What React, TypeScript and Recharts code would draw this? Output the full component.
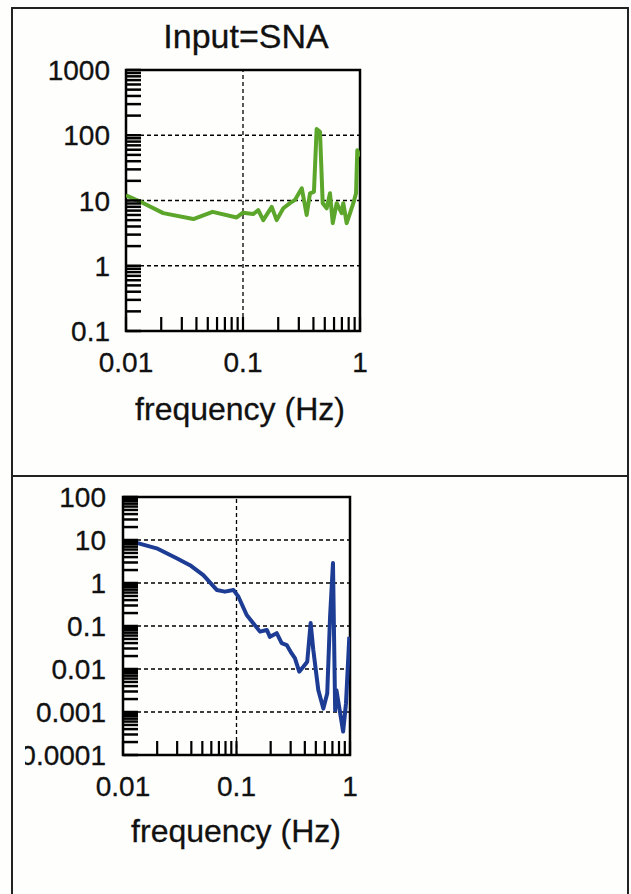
import React from "react";
import {
  LineChart,
  Line,
  XAxis,
  YAxis,
  ReferenceLine,
  ReferenceArea
} from "recharts";

const FONT = "'Liberation Sans', Arial, sans-serif";
const GREEN = "#5ca62c";
const BLUE = "#1d3c94";
const INK = "#111";

// top panel: input = SNA
const snaFreq = [
  0.01, 0.0141, 0.0208, 0.0376, 0.055, 0.0883, 0.1, 0.122, 0.135, 0.149, 0.176,
  0.194, 0.221, 0.252, 0.278, 0.318, 0.35, 0.374, 0.404, 0.426, 0.455, 0.48,
  0.519, 0.554, 0.585, 0.632, 0.697, 0.72, 0.769, 0.822, 0.877, 0.925, 0.948, 0.99
];
const snaGain = [
  12, 9.1, 6.4, 5.2, 6.7, 5.5, 6.5, 6.2, 7.1, 5.0, 8.0,
  5.0, 7.6, 9.1, 10.2, 15.4, 6.0, 12.9, 13.6, 125, 113, 9.1,
  7.6, 12.9, 4.5, 9.1, 6.4, 9.1, 4.5, 6.4, 9.1, 12.9, 59, 47
];

// bottom panel
const lowFreq = [
  0.01, 0.0132, 0.0198, 0.0297, 0.0389, 0.051, 0.067, 0.079, 0.094, 0.104, 0.123,
  0.141, 0.161, 0.185, 0.197, 0.226, 0.25, 0.277, 0.306, 0.327, 0.357, 0.388,
  0.42, 0.45, 0.475, 0.526, 0.582, 0.63, 0.667, 0.708, 0.74, 0.76, 0.87, 0.922, 0.986
];
const lowGain = [
  9, 8.6, 6.4, 3.75, 2.6, 1.53, 0.69, 0.63, 0.69, 0.48, 0.18,
  0.115, 0.074, 0.081, 0.056, 0.068, 0.04, 0.036, 0.023, 0.0178, 0.0087, 0.0113,
  0.0148, 0.117, 0.0276, 0.0032, 0.0012, 0.0027, 0.16, 2.9, 0.0011, 0.0032, 0.00035, 0.0016, 0.056
];

const freqTicks = [
  0.01, 0.02, 0.03, 0.04, 0.05, 0.06, 0.07, 0.08, 0.09,
  0.1, 0.2, 0.3, 0.4, 0.5, 0.6, 0.7, 0.8, 0.9, 1
];
const freqLabels = [0.01, 0.1, 1];

const topYTicks = [
  0.1, 0.2, 0.3, 0.4, 0.5, 0.6, 0.7, 0.8, 0.9,
  1, 2, 3, 4, 5, 6, 7, 8, 9,
  10, 20, 30, 40, 50, 60, 70, 80, 90,
  100, 200, 300, 400, 500, 600, 700, 800, 900, 1000
];
const topYLabels = [0.1, 1, 10, 100, 1000];
const topGrid = [1, 10, 100];

const botYTicks = [
  0.0001, 0.0002, 0.0003, 0.0004, 0.0005, 0.0006, 0.0007, 0.0008, 0.0009,
  0.001, 0.002, 0.003, 0.004, 0.005, 0.006, 0.007, 0.008, 0.009,
  0.01, 0.02, 0.03, 0.04, 0.05, 0.06, 0.07, 0.08, 0.09,
  0.1, 0.2, 0.3, 0.4, 0.5, 0.6, 0.7, 0.8, 0.9,
  1, 2, 3, 4, 5, 6, 7, 8, 9,
  10, 20, 30, 40, 50, 60, 70, 80, 90, 100
];
const botYLabels = [0.0001, 0.001, 0.01, 0.1, 1, 10, 100];
const botGrid = [0.001, 0.01, 0.1, 1, 10];

const textStyle = { fontFamily: FONT, fill: INK, stroke: INK, strokeWidth: 0.3 };

const XTick = (props: any) => {
  const { x, y, payload } = props;
  const v = payload.value;
  return (
    <g>
      <line x1={x} x2={x} y1={y} y2={y - 14} stroke="#000" strokeWidth={2.2} />
      {freqLabels.includes(v) && (
        <text x={x} y={y + 41} textAnchor="middle" fontSize={28} {...textStyle}>
          {String(v)}
        </text>
      )}
    </g>
  );
};

const makeYTick = (labels: number[], gap: number) => (props: any) => {
  const { x, y, payload } = props;
  const v = payload.value;
  return (
    <g>
      <line x1={x} x2={x + 15} y1={y} y2={y} stroke="#000" strokeWidth={2.5} />
      {labels.includes(v) && (
        <text x={x - gap} y={y} dy="0.36em" textAnchor="end" fontSize={28} {...textStyle}>
          {String(v)}
        </text>
      )}
    </g>
  );
};

interface PanelProps {
  freq: number[];
  gain: number[];
  color: string;
  yDomain: [number, number];
  yTicks: number[];
  yLabels: number[];
  grid: number[];
  axisWidth: number;
  plotW: number;
  plotH: number;
  gap: number;
}

const Panel: React.FC<PanelProps> = ({ freq, gain, color, yDomain, yTicks, yLabels, grid, axisWidth, plotW, plotH, gap }) => {
  const data = freq.map((f, i) => ({ f, v: gain[i] }));
  return (
    <LineChart
      width={axisWidth + plotW + 12}
      height={20 + plotH + 60}
      data={data}
      margin={{ top: 20, right: 12, left: 0, bottom: 0 }}
    >
      <XAxis
        dataKey="f"
        type="number"
        scale="log"
        domain={[0.01, 1]}
        ticks={freqTicks}
        interval={0}
        allowDataOverflow
        axisLine={false}
        tickLine={false}
        tickSize={0}
        tickMargin={0}
        height={60}
        tick={<XTick />}
      />
      <YAxis
        type="number"
        scale="log"
        domain={yDomain}
        ticks={yTicks}
        interval={0}
        allowDataOverflow
        axisLine={false}
        tickLine={false}
        tickSize={0}
        tickMargin={0}
        width={axisWidth}
        tick={makeYTick(yLabels, gap)}
      />
      <ReferenceLine x={0.1} stroke="#000" strokeWidth={1.3} strokeDasharray="4 3" />
      {grid.map((g) => (
        <ReferenceLine key={g} y={g} stroke="#000" strokeWidth={1.3} strokeDasharray="4 3" />
      ))}
      <Line
        dataKey="v"
        type="linear"
        stroke={color}
        strokeWidth={4}
        strokeLinejoin="round"
        dot={false}
        isAnimationActive={false}
      />
      <ReferenceArea
        x1={0.01}
        x2={1}
        y1={yDomain[0]}
        y2={yDomain[1]}
        fill="none"
        fillOpacity={0}
        stroke="#000"
        strokeWidth={2.5}
      />
    </LineChart>
  );
};

export default function App() {
  return (
    <div style={{ position: "absolute", left: 0, top: 0, width: 631, height: 894, background: "#fefefc", overflow: "hidden" }}>
      <div style={{ position: "absolute", left: 11, top: 7, width: 614, height: 900, border: "2px solid #222" }} />
      <div style={{ position: "absolute", left: 11, top: 475, width: 618, height: 2, background: "#222" }} />
      <svg width={631} height={894} style={{ position: "absolute", left: 0, top: 0 }}>
        <text x={246} y={48} textAnchor="middle" fontSize={34} {...textStyle}>Input=SNA</text>
        <text x={240} y={420} textAnchor="middle" fontSize={32} {...textStyle}>frequency (Hz)</text>
        <text x={236} y={842} textAnchor="middle" fontSize={32} {...textStyle}>frequency (Hz)</text>
      </svg>
      <div style={{ position: "absolute", left: 22, top: 50 }}>
        <Panel
          freq={snaFreq}
          gain={snaGain}
          color={GREEN}
          yDomain={[0.1, 1000]}
          yTicks={topYTicks}
          yLabels={topYLabels}
          grid={topGrid}
          axisWidth={104}
          plotW={234}
          plotH={261}
          gap={16}
        />
      </div>
      <div style={{ position: "absolute", left: 25, top: 477 }}>
        <Panel
          freq={lowFreq}
          gain={lowGain}
          color={BLUE}
          yDomain={[0.0001, 100]}
          yTicks={botYTicks}
          yLabels={botYLabels}
          grid={botGrid}
          axisWidth={98}
          plotW={227}
          plotH={258}
          gap={17}
        />
      </div>
    </div>
  );
}
